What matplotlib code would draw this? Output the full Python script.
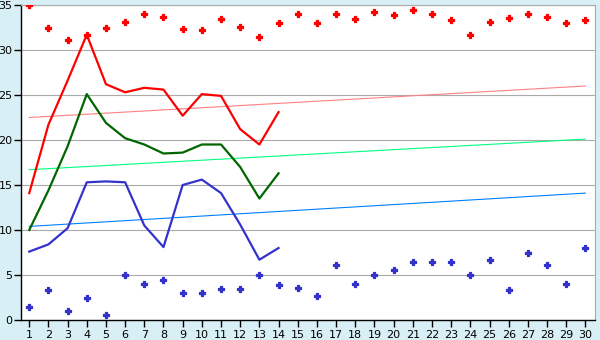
import matplotlib
matplotlib.use("Agg")
import matplotlib.pyplot as plt

days = list(range(1, 31))
line_days = list(range(1, 15))

red_points = [35.0, 32.4, 31.1, 31.7, 32.4, 33.1, 34.0, 33.7, 32.3, 32.2,
              33.4, 32.6, 31.5, 33.0, 34.0, 33.0, 34.0, 33.4, 34.2, 33.85,
              34.4, 34.0, 33.3, 31.7, 33.1, 33.6, 34.0, 33.7, 33.0, 33.3]
blue_points = [1.4, 3.3, 0.96, 2.5, 0.52, 4.96, 3.96, 4.4, 2.96, 2.96,
               3.4, 3.5, 4.96, 3.85, 3.6, 2.7, 6.07, 3.96, 4.96, 5.6,
               6.5, 6.4, 6.4, 4.96, 6.7, 3.3, 7.5, 6.07, 3.96, 7.96]

red_line = [14.1, 21.7, 26.6, 31.7, 26.2, 25.3, 25.8, 25.6, 22.7, 25.1,
            24.9, 21.2, 19.5, 23.1]
green_line = [10.0, 14.4, 19.3, 25.1, 21.9, 20.2, 19.5, 18.5, 18.6, 19.5,
              19.5, 17.0, 13.5, 16.3]
blue_line = [7.6, 8.4, 10.2, 15.3, 15.4, 15.3, 10.5, 8.1, 15.0, 15.6,
             14.1, 10.6, 6.7, 8.0]

trend_days = [1, 30]
red_trend = [22.5, 26.0]
green_trend = [16.7, 20.1]
blue_trend = [10.4, 14.1]

yticks = [0, 5, 10, 15, 20, 25, 30, 35]

fig = plt.figure(figsize=(6, 3.4), dpi=100)
fig.patch.set_facecolor("#d9eff6")
ax = fig.add_axes([21/600, 1-320/340, 574/600, 315/340])
ax.set_facecolor("white")

for y in yticks:
    ax.axhline(y, color="#aaaaaa", lw=0.8, zorder=1)

ax.plot(trend_days, red_trend, color="#ff8080", lw=0.8, zorder=2)
ax.plot(trend_days, green_trend, color="#00ff80", lw=0.8, zorder=2)
ax.plot(trend_days, blue_trend, color="#0080ff", lw=0.8, zorder=2)

ax.plot(line_days, red_line, color="#ff0000", lw=1.6, zorder=3)
ax.plot(line_days, green_line, color="#006600", lw=1.6, zorder=3)
ax.plot(line_days, blue_line, color="#3333cc", lw=1.6, zorder=3)

ax.scatter(days, red_points, marker="P", s=16, color="#ff0000",
           edgecolors="#ff0000", linewidths=0.9, zorder=4)
ax.scatter(days, blue_points, marker="P", s=16, color="#3333cc",
           edgecolors="#3333cc", linewidths=0.9, zorder=4)

ax.set_xlim(0.57, 30.5)
ax.set_ylim(0, 35)
ax.set_xticks(days)
ax.set_xticklabels([str(d) for d in days])
ax.set_yticks(yticks)
ax.set_yticklabels([str(y) for y in yticks])
ax.tick_params(axis="x", length=5, width=1, colors="black", labelsize=8, pad=2)
ax.tick_params(axis="y", length=5, width=1, colors="black", labelsize=8, pad=1)

for side in ["left", "bottom"]:
    ax.spines[side].set_color("black")
    ax.spines[side].set_linewidth(1)
ax.spines["right"].set_color("#aaaaaa")
ax.spines["top"].set_color("#aaaaaa")

fig.savefig("out.png", dpi=100, facecolor=fig.get_facecolor())
